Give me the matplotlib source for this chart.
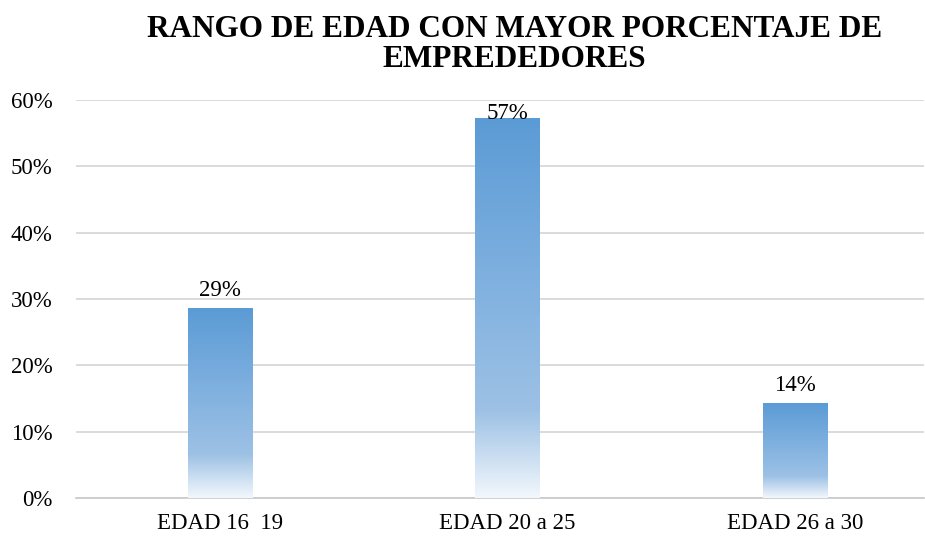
import numpy as np
import matplotlib.pyplot as plt
from matplotlib.colors import LinearSegmentedColormap
from matplotlib.ticker import PercentFormatter

# Datos
categorias = ['EDAD 16  19', 'EDAD 20 a 25', 'EDAD 26 a 30']
porcentajes = [2 / 7, 4 / 7, 1 / 7]
etiquetas = ['29%', '57%', '14%']
titulo = 'RANGO DE EDAD CON MAYOR PORCENTAJE DE\nEMPREDEDORES'

plt.rcParams['font.family'] = ['Liberation Serif', 'DejaVu Serif']

fig = plt.figure(figsize=(9.25, 5.37), dpi=100)
ax = fig.add_axes([0.0822, 0.0726, 0.9168, 0.7412])

# degradado: azul arriba, casi blanco abajo
cmap = LinearSegmentedColormap.from_list(
    'grad', [(0.0, '#F2F7FC'), (0.23, '#9DC1E5'), (0.6, '#7DAFDF'), (1.0, '#5B9BD5')])
grad = np.linspace(0, 1, 256).reshape(-1, 1)

x = np.arange(len(categorias))
ancho = 0.223
bars = ax.bar(x, porcentajes, width=ancho, color='none', zorder=3)
for b in bars:
    x0, y0 = b.get_x(), b.get_y()
    ax.imshow(grad, cmap=cmap, origin='lower', aspect='auto', zorder=3,
              extent=[x0, x0 + b.get_width(), y0, y0 + b.get_height()])

ax.set_xlim(-0.5, 2.45)
ax.set_ylim(0, 0.6)
ax.set_yticks(np.arange(0, 0.61, 0.1))
ax.yaxis.set_major_formatter(PercentFormatter(1.0, decimals=0))
ax.set_xticks(x)
ax.set_xticklabels(categorias)

ax.grid(axis='y', color='#D4D4D4', linewidth=1.2, zorder=0)
ax.set_axisbelow(True)
for s in ['top', 'right', 'left']:
    ax.spines[s].set_visible(False)
ax.spines['bottom'].set_color('#C8C8C8')
ax.spines['bottom'].set_linewidth(1.2)
ax.tick_params(axis='both', length=0, labelsize=16.5, colors='#000000')
ax.tick_params(axis='y', pad=17)
ax.tick_params(axis='x', pad=11)

for xi, v, t in zip(x, porcentajes, etiquetas):
    y = v + 0.011
    if y > 0.57:
        y = v - 0.008
    ax.text(xi, y, t, ha='center', va='bottom', fontsize=16.5, zorder=4)

fig.text(0.556, 0.972, titulo, ha='center', va='top', fontsize=22.5,
         fontweight='bold', linespacing=1.06)

fig.savefig('out.png', dpi=100)
